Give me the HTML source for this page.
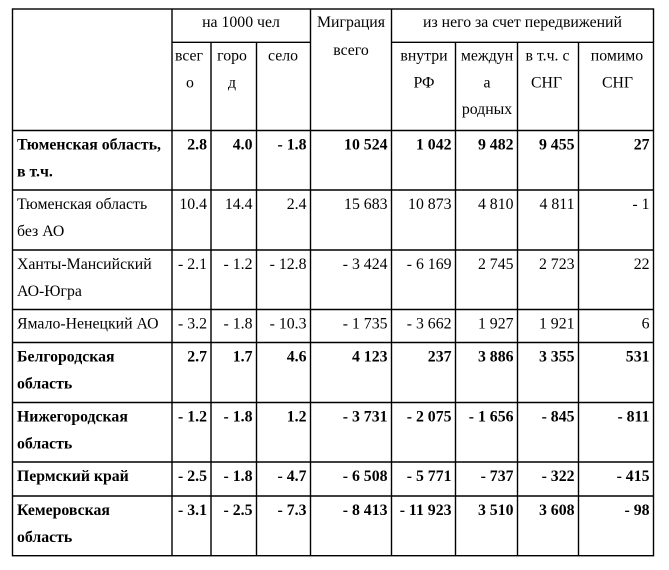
<!DOCTYPE html>
<html>
<head>
<meta charset="utf-8">
<style>
html,body{margin:0;padding:0;background:#fff;}
svg{display:block;}
text{font-family:"Liberation Serif","Noto Serif CJK SC",serif;font-size:15.8px;fill:#000;}
.b{font-weight:bold;}
.c{text-anchor:middle;}
.r{text-anchor:end;}
</style>
</head>
<body>
<svg width="669" height="570" viewBox="0 0 669 570" xmlns="http://www.w3.org/2000/svg">
<rect x="0" y="0" width="669" height="570" fill="#fff"/>
<g stroke="#000" stroke-width="1.4" fill="none">
  <rect x="12.5" y="9" width="641" height="546.7"/>
  <line x1="172" y1="42.3" x2="310.5" y2="42.3"/>
  <line x1="391.5" y1="42.3" x2="653.5" y2="42.3"/>
  <line x1="172" y1="9" x2="172" y2="555.7"/>
  <line x1="211" y1="42.3" x2="211" y2="555.7"/>
  <line x1="256.5" y1="42.3" x2="256.5" y2="555.7"/>
  <line x1="310.5" y1="9" x2="310.5" y2="555.7"/>
  <line x1="391.5" y1="9" x2="391.5" y2="555.7"/>
  <line x1="455.5" y1="42.3" x2="455.5" y2="555.7"/>
  <line x1="517.5" y1="42.3" x2="517.5" y2="555.7"/>
  <line x1="578.5" y1="42.3" x2="578.5" y2="555.7"/>
  <line x1="12.5" y1="130.5" x2="653.5" y2="130.5"/>
  <line x1="12.5" y1="190" x2="653.5" y2="190"/>
  <line x1="12.5" y1="250" x2="653.5" y2="250"/>
  <line x1="12.5" y1="309.5" x2="653.5" y2="309.5"/>
  <line x1="12.5" y1="342.5" x2="653.5" y2="342.5"/>
  <line x1="12.5" y1="402.5" x2="653.5" y2="402.5"/>
  <line x1="12.5" y1="462" x2="653.5" y2="462"/>
  <line x1="12.5" y1="496" x2="653.5" y2="496"/>
</g>

<text class="c" x="241" y="27">на 1000 чел</text>
<text class="c" x="351" y="27">Миграция</text>
<text class="c" x="351" y="55">всего</text>
<text class="c" x="522.5" y="27">из него за счет передвижений</text>

<text class="c" x="189" y="60.5">всег</text>
<text class="c" x="190" y="87.5">о</text>
<text class="c" x="232" y="60.5">горо</text>
<text class="c" x="232" y="87.5">д</text>
<text class="c" x="283" y="60.5">село</text>
<text class="c" x="424" y="60.5">внутри</text>
<text class="c" x="424" y="87.5">РФ</text>
<text class="c" x="487" y="60.5">междун</text>
<text class="c" x="487" y="87.5">а</text>
<text class="c" x="487" y="114">родных</text>
<text class="c" x="547.5" y="60.5">в т.ч. с</text>
<text class="c" x="546.5" y="87.5">СНГ</text>
<text class="c" x="617" y="60.5">помимо</text>
<text class="c" x="617.5" y="87.5">СНГ</text>

<g class="b">
<text x="17" y="149.5">Тюменская область,</text>
<text x="17" y="176.5">в т.ч.</text>
<text class="r" x="207" y="149.5">2.8</text>
<text class="r" x="252.5" y="149.5">4.0</text>
<text class="r" x="306.5" y="149.5">- 1.8</text>
<text class="r" x="387.5" y="149.5">10 524</text>
<text class="r" x="451.5" y="149.5">1 042</text>
<text class="r" x="513.5" y="149.5">9 482</text>
<text class="r" x="574.5" y="149.5">9 455</text>
<text class="r" x="649.5" y="149.5">27</text>
</g>

<text x="17" y="209">Тюменская область</text>
<text x="17" y="236">без АО</text>
<text class="r" x="207" y="209">10.4</text>
<text class="r" x="252.5" y="209">14.4</text>
<text class="r" x="306.5" y="209">2.4</text>
<text class="r" x="387.5" y="209">15 683</text>
<text class="r" x="451.5" y="209">10 873</text>
<text class="r" x="513.5" y="209">4 810</text>
<text class="r" x="574.5" y="209">4 811</text>
<text class="r" x="649.5" y="209">- 1</text>

<text x="17" y="269">Ханты-Мансийский</text>
<text x="17" y="296">АО-Югра</text>
<text class="r" x="207" y="269">- 2.1</text>
<text class="r" x="252.5" y="269">- 1.2</text>
<text class="r" x="306.5" y="269">- 12.8</text>
<text class="r" x="387.5" y="269">- 3 424</text>
<text class="r" x="451.5" y="269">- 6 169</text>
<text class="r" x="513.5" y="269">2 745</text>
<text class="r" x="574.5" y="269">2 723</text>
<text class="r" x="649.5" y="269">22</text>

<text x="17" y="328.5">Ямало-Ненецкий АО</text>
<text class="r" x="207" y="328.5">- 3.2</text>
<text class="r" x="252.5" y="328.5">- 1.8</text>
<text class="r" x="306.5" y="328.5">- 10.3</text>
<text class="r" x="387.5" y="328.5">- 1 735</text>
<text class="r" x="451.5" y="328.5">- 3 662</text>
<text class="r" x="513.5" y="328.5">1 927</text>
<text class="r" x="574.5" y="328.5">1 921</text>
<text class="r" x="649.5" y="328.5">6</text>

<g class="b">
<text x="17" y="361.5">Белгородская</text>
<text x="17" y="388.5">область</text>
<text class="r" x="207" y="361.5">2.7</text>
<text class="r" x="252.5" y="361.5">1.7</text>
<text class="r" x="306.5" y="361.5">4.6</text>
<text class="r" x="387.5" y="361.5">4 123</text>
<text class="r" x="451.5" y="361.5">237</text>
<text class="r" x="513.5" y="361.5">3 886</text>
<text class="r" x="574.5" y="361.5">3 355</text>
<text class="r" x="649.5" y="361.5">531</text>
</g>

<g class="b">
<text x="17" y="421.5">Нижегородская</text>
<text x="17" y="448.5">область</text>
<text class="r" x="207" y="421.5">- 1.2</text>
<text class="r" x="252.5" y="421.5">- 1.8</text>
<text class="r" x="306.5" y="421.5">1.2</text>
<text class="r" x="387.5" y="421.5">- 3 731</text>
<text class="r" x="451.5" y="421.5">- 2 075</text>
<text class="r" x="513.5" y="421.5">- 1 656</text>
<text class="r" x="574.5" y="421.5">- 845</text>
<text class="r" x="649.5" y="421.5">- 811</text>
</g>

<g class="b">
<text x="17" y="481">Пермский край</text>
<text class="r" x="207" y="481">- 2.5</text>
<text class="r" x="252.5" y="481">- 1.8</text>
<text class="r" x="306.5" y="481">- 4.7</text>
<text class="r" x="387.5" y="481">- 6 508</text>
<text class="r" x="451.5" y="481">- 5 771</text>
<text class="r" x="513.5" y="481">- 737</text>
<text class="r" x="574.5" y="481">- 322</text>
<text class="r" x="649.5" y="481">- 415</text>
</g>

<g class="b">
<text x="17" y="515">Кемеровская</text>
<text x="17" y="542">область</text>
<text class="r" x="207" y="515">- 3.1</text>
<text class="r" x="252.5" y="515">- 2.5</text>
<text class="r" x="306.5" y="515">- 7.3</text>
<text class="r" x="387.5" y="515">- 8 413</text>
<text class="r" x="451.5" y="515">- 11 923</text>
<text class="r" x="513.5" y="515">3 510</text>
<text class="r" x="574.5" y="515">3 608</text>
<text class="r" x="649.5" y="515">- 98</text>
</g>
</svg>
</body>
</html>
